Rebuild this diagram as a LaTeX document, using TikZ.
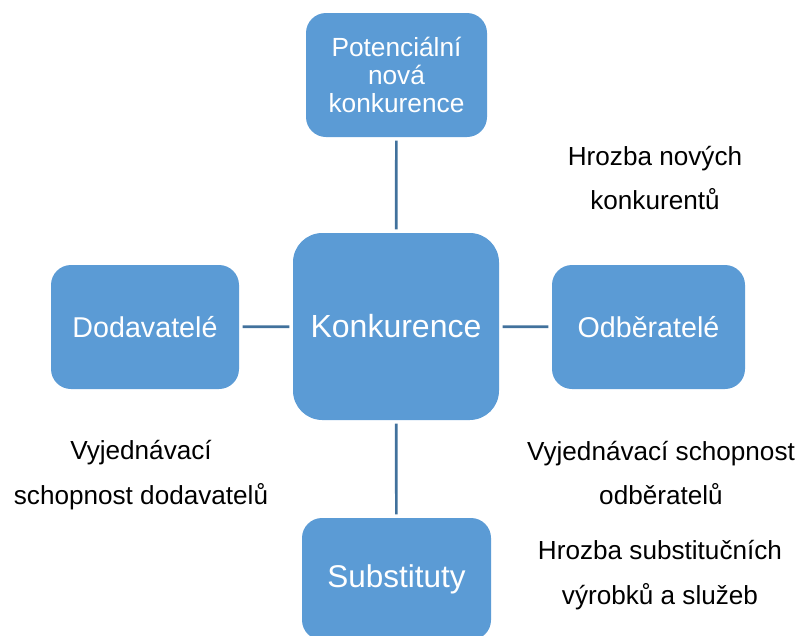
\documentclass[tikz,border=0pt]{standalone}
\usepackage{fontspec}
\setmainfont{Liberation Sans}
\usepackage{xcolor}
\definecolor{Col1}{RGB}{91,155,213}
\definecolor{Col2}{RGB}{65,113,156}
\usepackage{tikz}
\tikzstyle{Box}=[fill=Col1,rounded corners=15pt,text=white,align=center,
inner sep=0pt,minimum width=140pt,minimum height=93pt]
\tikzstyle{Edge}=[draw=Col2,line width=2pt,shorten >=2.5pt,shorten <=2.5pt]
\tikzstyle{Label}=[align=center,inner sep=0pt,
font=\fontsize{19.6}{33.5}\selectfont]

\begin{document}
\begin{tikzpicture}[x=0.75pt,y=-0.75pt]
        \useasboundingbox(0,0)rectangle(801,636);
        \node[Box,minimum width=135.75pt,
            font=\fontsize{19.7}{21.2}\selectfont](pot)at(396.5,75){
            Potenciální\\nová\\konkurence};
        \node[Box,minimum width=154.5pt,minimum height=140.25pt,
            rounded corners=22pt,font=\fontsize{24}{28}\selectfont](konk)
            at(396,326.5){Konkurence};
        \node[Box,minimum width=141pt,
            font=\fontsize{21.5}{25}\selectfont](dod)at(145,327){Dodavatelé};
        \node[Box,minimum width=144.75pt,
            font=\fontsize{21.5}{25}\selectfont](odb)at(648.5,327){Odběratelé};
        \node[Box,minimum width=141.75pt,minimum height=91.5pt,
            font=\fontsize{23.6}{27}\selectfont](sub)at(396.5,579){Substituty};
        \draw[Edge](pot)--(konk);
        \draw[Edge](dod)--(konk);
        \draw[Edge](konk)--(odb);
        \draw[Edge](konk)--(sub);
        \node[Label](hn)at(655,178){Hrozba nových\\konkurentů};
        \node[Label](vd)at(141,475){Vyjednávací\\schopnost dodavatelů};
        \node[Label](vo)at(661,473){Vyjednávací schopnost\\odběratelů};
        \node[Label](hs)at(660,575){Hrozba substitučních\\výrobků a služeb};
    \end{tikzpicture}
\end{document}
